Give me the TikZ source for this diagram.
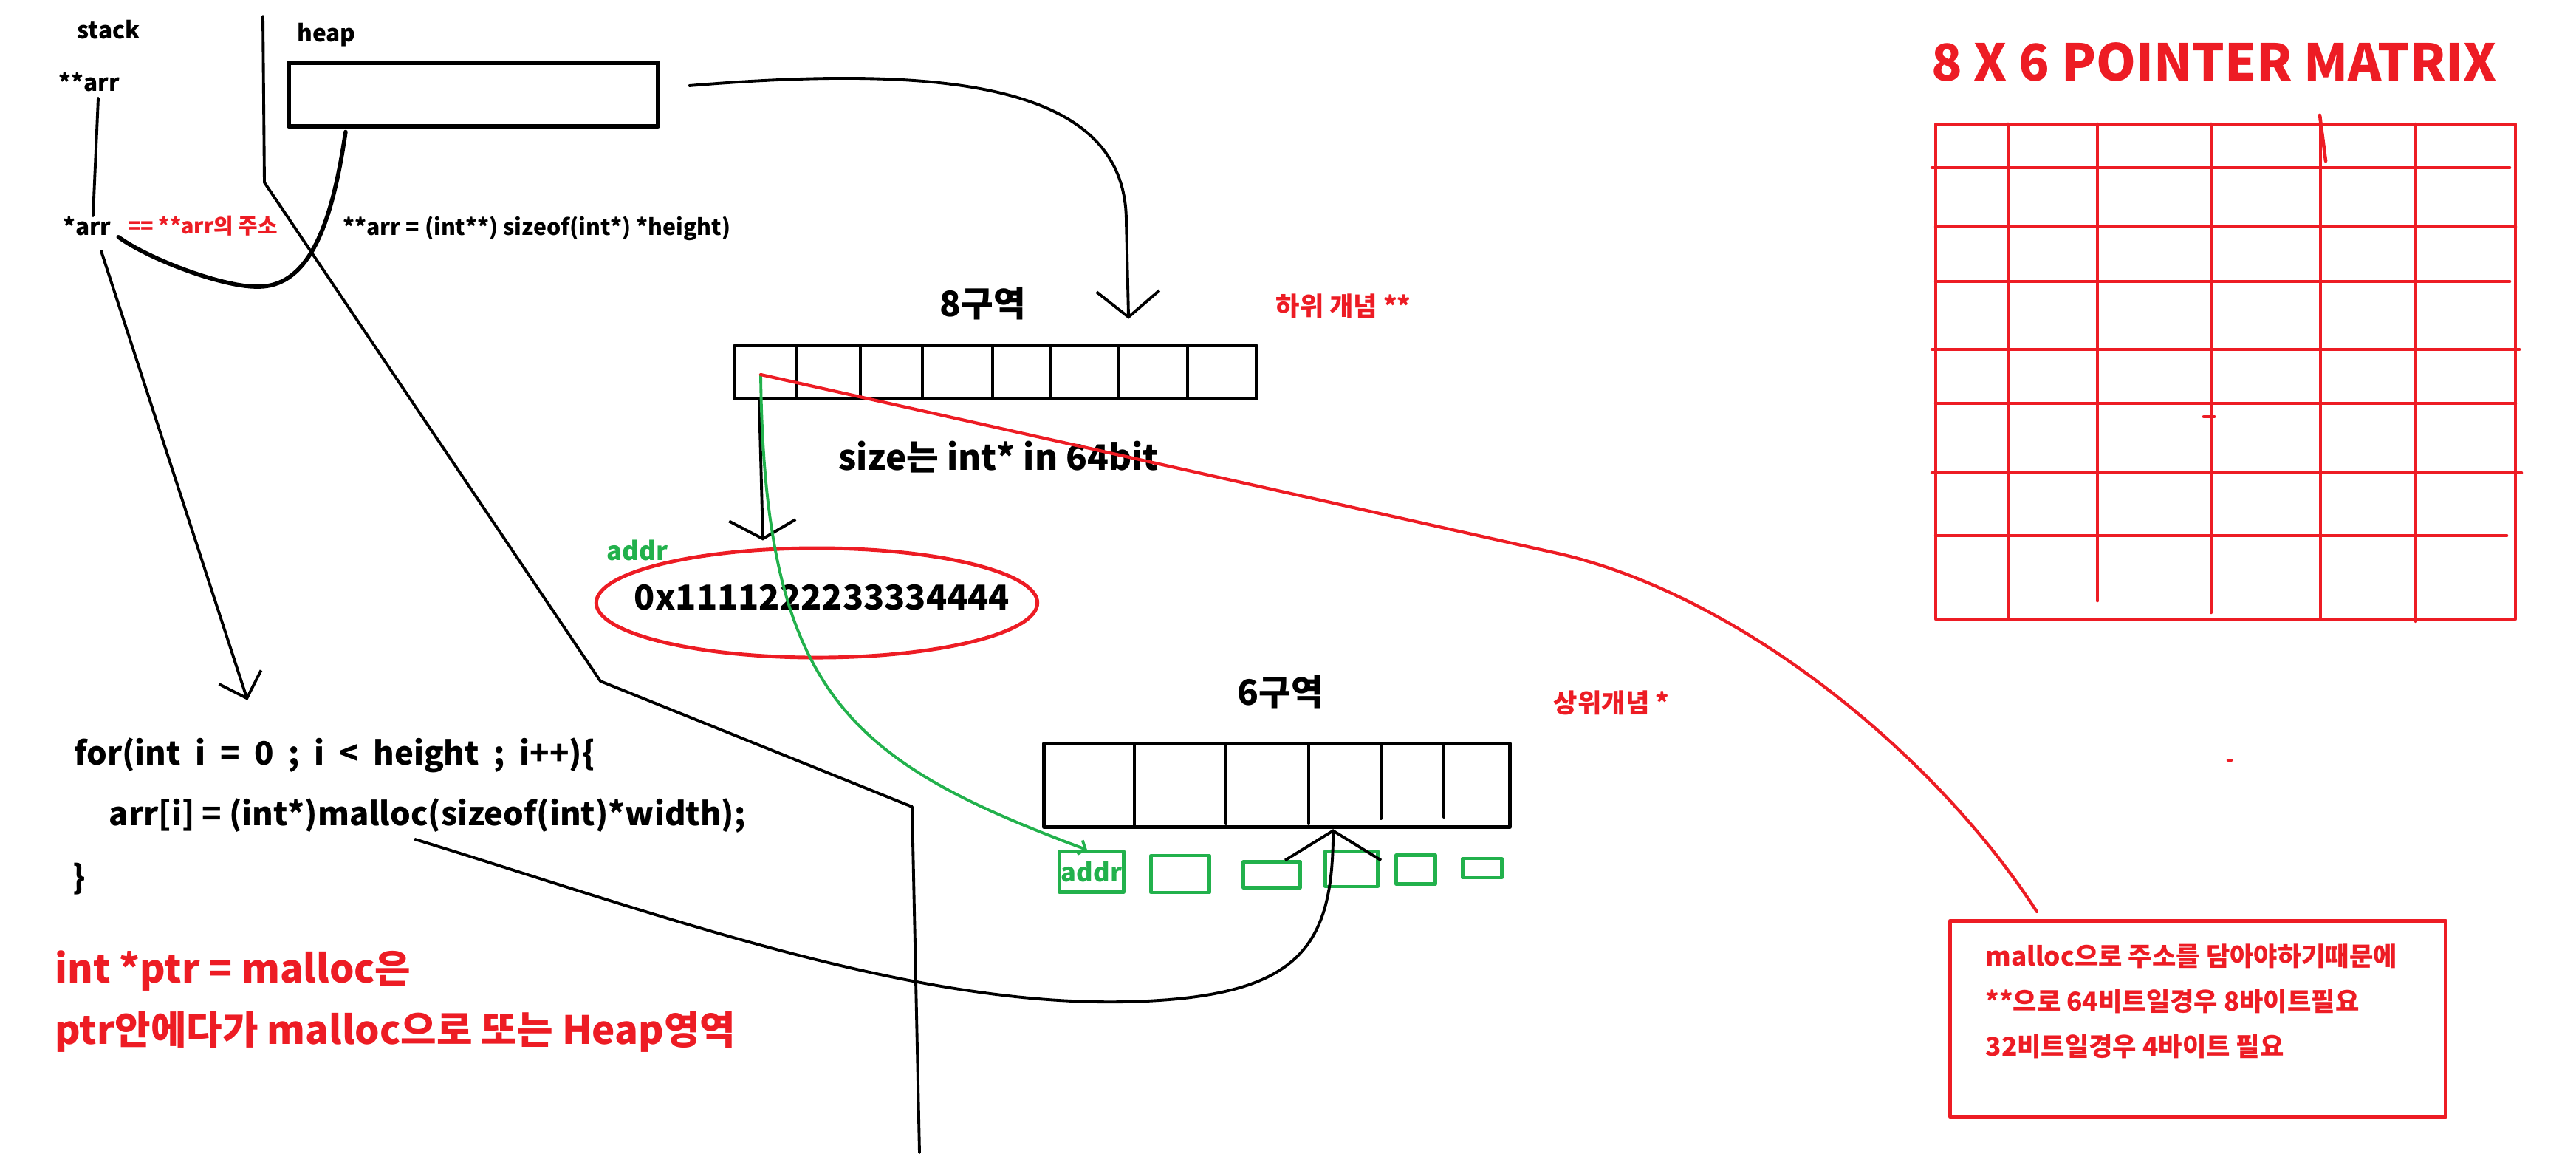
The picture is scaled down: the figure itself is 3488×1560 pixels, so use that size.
\documentclass[tikz,border=0pt]{standalone}
\usepackage{fontspec}
\setmainfont{Noto Sans CJK KR}
\usetikzlibrary{arrows.meta, positioning, shapes.geometric}
\definecolor{paintred}{RGB}{237,28,36}
\definecolor{paintgreen}{RGB}{34,177,76}

\begin{document}
\begin{tikzpicture}[x=0.01cm, y=-0.01cm, line cap=round, line join=round,
  every node/.style={inner sep=0pt},
  tag/.style={font=\bfseries\fontsize{9}{11}\selectfont},
  note/.style={font=\bfseries\fontsize{10}{12}\selectfont, text=paintred},
  code/.style={font=\bfseries\fontsize{13.5}{16}\selectfont},
  loopcode/.style={font=\bfseries\fontsize{12.4}{15}\selectfont},
  redcode/.style={font=\bfseries\fontsize{15}{18}\selectfont, text=paintred},
  pen/.style={line width=1.1pt},
  heavy/.style={line width=1.6pt},
  gbox/.style={draw=paintgreen, line width=1.2pt},
  grid/.style={paintred, line width=1.3pt}]
\fill[white] (0,0) rectangle (3488,1560);

\node[tag] (stack) at (147,40) {stack};
\node[tag] (heap) at (442,47) {heap};
\draw[pen] (356,22) -- (358,247) -- (813,922) -- (1235,1092) -- (1245,1560);
\node[draw, line width=1.7pt, minimum width=5cm, minimum height=0.85cm] (heapbox) at (641,128) {};
\node[tag] (dparr) at (121,111) {**arr};
\node[tag] (sparr) at (118,306) {*arr};
\node[tag, font=\bfseries\fontsize{8.2}{10}\selectfont, text=paintred, right=0.21cm of sparr] (addrof) {== **arr의 주소};
\node[tag, font=\bfseries\fontsize{8.6}{10}\selectfont] (alloc) at (727,309) {**arr = (int**) sizeof(int*) *height)};
\draw[pen] ([xshift=0.12cm,yshift=-0.08cm]dparr.south) -- ([xshift=0.08cm]sparr.north);
\draw[heavy] ([xshift=0.8cm,yshift=-0.05cm]heapbox.south west) .. controls (450,300) and (420,390) .. (347,388)
  .. controls (300,388) and (200,350) .. ([xshift=0.09cm,yshift=-0.01cm]sparr.south east);

\node[loopcode, anchor=west] (forline) at (100,1022) {\spaceskip=0.45em for(int i = 0 ; i < height ; i++)\{};
\node[loopcode, anchor=west] (body) at (147,1104) {arr[i] = (int*)malloc(sizeof(int)*width);};
\node[loopcode] (close) at (107,1190) {\}};
\node[redcode, anchor=west] (ptrnote) at (74,1314) {int *ptr = malloc은};
\node[redcode, anchor=west] (heapnote) at (74,1397) {ptr안에다가 malloc으로 또는 Heap영역};
\draw[pen, -{Straight Barb[length=0.3cm,width=0.6cm]}] ([xshift=0.19cm,yshift=-0.2cm]sparr.south) -- ([xshift=2.35cm,yshift=0.5cm]forline.north west);

\node[draw, line width=1.3pt, minimum width=7.07cm, minimum height=0.72cm] (ptrbox) at (1348,504) {};
\foreach \x in {1079,1165,1249,1344,1423,1514,1608}
  \draw[line width=0.9pt] (\x,470) -- (\x,538);
\node[code] (eight) at (1331,411) {8구역};
\node[note] (low) at (1819,414) {하위 개념 **};
\draw[pen, -{Straight Barb[length=0.35cm,width=0.85cm]}] ([xshift=0.39cm,yshift=0.12cm]heapbox.east)
  .. controls (1300,85) and (1525,120) .. (1525,300) -- ([xshift=1.8cm,yshift=0.34cm]ptrbox.north);
\node[code] (size) at (1352,619) {size는 int* in 64bit};
\node[ellipse, draw=paintred, line width=1.4pt, minimum width=5.97cm, minimum height=1.48cm] (addr) at (1106,816) {};
\node[font=\bfseries\fontsize{13.2}{16}\selectfont] (addrval) at (1113,809) {0x1111222233334444};
\node[tag, font=\bfseries\fontsize{9.8}{12}\selectfont, text=paintgreen] (addrtag) at (863,745) {addr};
\draw[pen, -{Straight Barb[length=0.25cm,width=0.9cm]}] ([xshift=0.36cm]ptrbox.south west) -- ([xshift=-0.73cm,yshift=0.08cm]addr.north);

\node[draw, line width=1.5pt, minimum width=6.3cm, minimum height=1.13cm] (rowbox) at (1729,1063) {};
\foreach \x/\y in {1536/1120,1660/1115,1772/1115,1870/1108,1955/1106}
  \draw[pen] (\x,1007) -- (\x,\y);
\node[code] (six) at (1734,937) {6구역};
\node[note] (high) at (2182,951) {상위개념 *};
\node[gbox, minimum width=0.87cm, minimum height=0.55cm, text=paintgreen,
  font=\bfseries\fontsize{9.8}{12}\selectfont] (g1) at (1478,1180) {addr};
\foreach \n/\cx/\cy/\w/\h in {2/1598/1183/0.79/0.50, 3/1722/1184/0.77/0.35, 4/1830/1176/0.71/0.48,
  5/1917/1177/0.53/0.39, 6/2007/1175/0.53/0.26}
  \node[gbox, minimum width=\w cm, minimum height=\h cm] (g\n) at (\cx,\cy) {};

\coordinate (cell) at (1030,507);
\coordinate (mallocref) at (562,1136);
\draw[paintgreen, line width=1.1pt, -{Straight Barb[length=0.08cm,width=0.2cm]}] (cell)
  .. controls (1035,940) and (1150,1030) .. ([xshift=-0.06cm]g1.north);
\draw[pen, -{Straight Barb[length=0.4cm,width=1.3cm]}] (mallocref) .. controls (900,1240) and (1250,1370) .. (1552,1355)
  .. controls (1760,1345) and (1805,1280) .. ([xshift=0.76cm]rowbox.south);

\node[font=\bfseries\fontsize{19.5}{23}\selectfont, text=paintred] (title) at (2998,84) {8 X 6 POINTER MATRIX};
\draw[grid] (2621,168) rectangle (3406,838);
\foreach \x/\y in {2719/838,2840/813,2994/829,3142/838,3271/841}
  \draw[grid] (\x,168) -- (\x,\y);
\foreach \y/\a/\b in {227/2616/3398,307/2621/3406,381/2621/3398,473/2616/3411,546/2621/3406,640/2616/3414,725/2621/3394}
  \draw[grid] (\a,\y) -- (\b,\y);
\draw[grid] (3141,156) -- (3149,218);
\draw[grid] (2984,564) -- (2998,564);
\draw[grid] (3017,1029) -- (3021,1029);

\node[draw=paintred, line width=1.4pt, minimum width=6.71cm, minimum height=2.65cm] (memo) at (2976,1379) {};
\node[note, anchor=north west, align=left, font=\bfseries\fontsize{10}{17.4}\selectfont] (memotext)
  at ([xshift=0.5cm,yshift=-0.33cm]memo.north west) {malloc으로 주소를 담아야하기때문에\\**으로 64비트일경우 8바이트필요\\32비트일경우 4바이트 필요};
\draw[paintred, line width=1.2pt] (cell) -- (2100,747) .. controls (2350,800) and (2620,1020) .. ([xshift=-2.18cm,yshift=0.1cm]memo.north);
\end{tikzpicture}
\end{document}
